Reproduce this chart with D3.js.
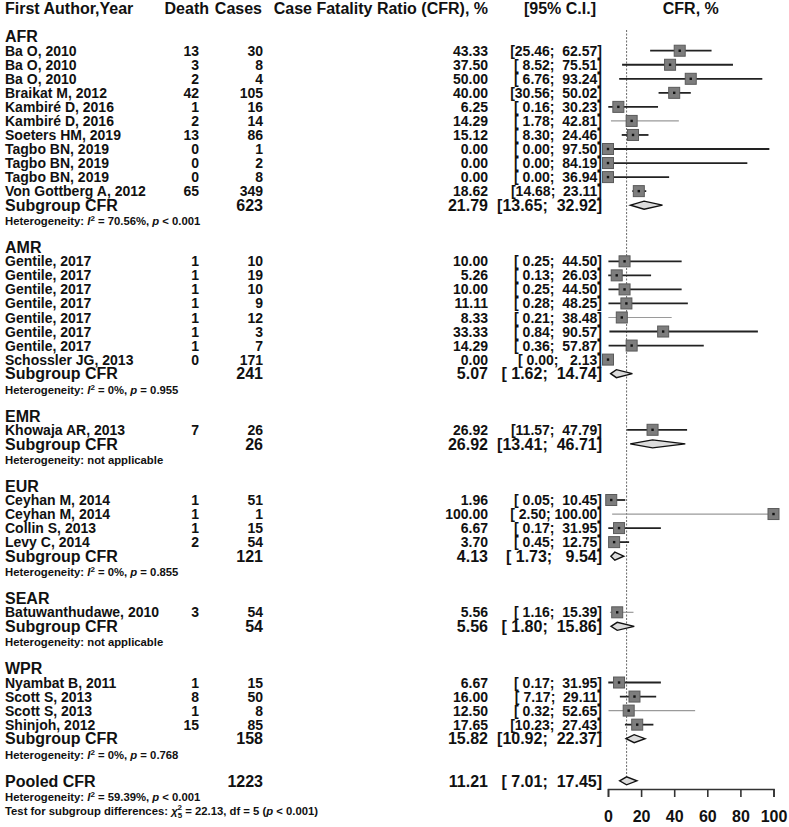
<!DOCTYPE html>
<html><head><meta charset="utf-8">
<script src="https://cdn.jsdelivr.net/npm/d3@7"></script>
<style>
html,body{margin:0;padding:0;background:#fff;}
svg text{font-family:"Liberation Sans",Arial,sans-serif;fill:#111;white-space:pre;}
</style></head>
<body><svg id="c" width="789" height="827"></svg>
<script>
// ---------- data ----------
const regions = ["AFR","AMR","EMR","EUR","SEAR","WPR"];
const studyLabels = [
 "Ba O, 2010","Ba O, 2010","Ba O, 2010","Braikat M, 2012","Kambiré D, 2016","Kambiré D, 2016",
 "Soeters HM, 2019","Tagbo BN, 2019","Tagbo BN, 2019","Tagbo BN, 2019","Von Gottberg A, 2012",
 "Gentile, 2017","Gentile, 2017","Gentile, 2017","Gentile, 2017","Gentile, 2017","Gentile, 2017","Gentile, 2017","Schossler JG, 2013",
 "Khowaja AR, 2013",
 "Ceyhan M, 2014","Ceyhan M, 2014","Collin S, 2013","Levy C, 2014",
 "Batuwanthudawe, 2010",
 "Nyambat B, 2011","Scott S, 2013","Scott S, 2013","Shinjoh, 2012"];
const studyRegion = ["AFR","AFR","AFR","AFR","AFR","AFR","AFR","AFR","AFR","AFR","AFR",
 "AMR","AMR","AMR","AMR","AMR","AMR","AMR","AMR","EMR","EUR","EUR","EUR","EUR","SEAR",
 "WPR","WPR","WPR","WPR"];
const deaths = [13,3,2,42,1,2,13,0,0,0,65, 1,1,1,1,1,1,1,0, 7, 1,1,1,2, 3, 1,8,1,15];
const cases  = [30,8,4,105,16,14,86,1,2,8,349, 10,19,10,9,12,3,7,171, 26, 51,1,15,54, 54, 15,50,8,85];
const cfr    = [43.33,37.50,50.00,40.00,6.25,14.29,15.12,0,0,0,18.62,
 10.00,5.26,10.00,11.11,8.33,33.33,14.29,0, 26.92, 1.96,100.00,6.67,3.70, 5.56, 6.67,16.00,12.50,17.65];
const ciLow  = [25.46,8.52,6.76,30.56,0.16,1.78,8.30,0,0,0,14.68,
 0.25,0.13,0.25,0.28,0.21,0.84,0.36,0, 11.57, 0.05,2.50,0.17,0.45, 1.16, 0.17,7.17,0.32,10.23];
const ciHigh = [62.57,75.51,93.24,50.02,30.23,42.81,24.46,97.50,84.19,36.94,23.11,
 44.50,26.03,44.50,48.25,38.48,90.57,57.87,2.13, 47.79, 10.45,100.00,31.95,12.75, 15.39, 31.95,29.11,52.65,27.43];

const regionTotals = [623,241,26,121,54,158];
const regionCFR  = [21.79,5.07,26.92,4.13,5.56,15.82];
const regionLow  = [13.65,1.62,13.41,1.73,1.80,10.92];
const regionHigh = [32.92,14.74,46.71,9.54,15.86,22.37];
const regionI2   = ["70.56%","0%",null,"0%",null,"0%"];
const regionP    = ["< 0.001","= 0.955",null,"= 0.855",null,"= 0.768"];

const pooledTotal = 1223, pooledCFR = 11.21, pooledLow = 7.01, pooledHigh = 17.45;
const pooledI2 = "59.39%", pooledP = "< 0.001";
const testChi2 = "22.13", testDf = 5, testP = "< 0.001";
const xTicks = [0,20,40,60,80,100];
const headers = ["First Author,Year","Death","Cases","Case Fatality Ratio (CFR), %","[95% C.I.]","CFR, %"];

// ---------- layout ----------
const svg = d3.select("#c");
const y = d3.scaleLinear().domain([0,57]).range([8.6, 8.6+57*14.04]);
const x = d3.scaleLinear().domain([0,100]).range([608,773.5]);
const lightLineStudies = [5,15,21,24,27];
const f2 = v => v.toFixed(2);
const pad = (s,n) => s.padStart(n," ");
const ciStudy = (l,h) => "[" + pad(f2(l),5) + "; " + pad(f2(h),6) + "]";

const colLabel = 5, colDeath = 199, colCases = 263, colCFR = 488, colCI = 602;

function txt(xp, yp, s, size, weight, anchor){
  return svg.append("text").attr("x",xp).attr("y",yp).attr("dy","0.36em")
    .attr("font-size",size).attr("font-weight",weight||"bold")
    .attr("text-anchor",anchor||"start").text(s);
}
function het(yp, i2, p){
  const t = svg.append("text").attr("x",colLabel).attr("y",yp+2).attr("dy","0.36em")
    .attr("font-size",11.3).attr("font-weight","bold");
  if(i2===null){ t.append("tspan").text("Heterogeneity: not applicable"); return; }
  t.append("tspan").text("Heterogeneity: ");
  t.append("tspan").attr("font-style","italic").text("I");
  t.append("tspan").attr("font-size",8).attr("dy",-4).text("2");
  t.append("tspan").attr("dy",4).text(" = " + i2 + ", ");
  t.append("tspan").attr("font-style","italic").text("p");
  t.append("tspan").text(" " + p);
}

// headers
txt(colLabel, y(0), headers[0], 16);
txt(209, y(0), headers[1], 16, "bold", "end");
txt(262, y(0), headers[2], 16, "bold", "end");
txt(488, y(0), headers[3], 16, "bold", "end");
txt(596, y(0), headers[4], 16, "bold", "end");
txt((x(0)+x(100))/2, y(0), headers[5], 16, "bold", "middle");

// reference line
svg.append("line").attr("x1",x(pooledCFR)).attr("x2",x(pooledCFR))
  .attr("y1",30).attr("y2",y(55)-4)
  .attr("stroke","#777").attr("stroke-width",1.1).attr("stroke-dasharray","2,1.5");

function diamond(yp, est, lo, hi){
  const h = 4;
  svg.append("path")
    .attr("d", `M${x(lo)},${yp}L${x(est)},${yp-h}L${x(hi)},${yp}L${x(est)},${yp+h}Z`)
    .attr("fill","#dcdcdc").attr("stroke","#111").attr("stroke-width",1.4);
}

let row = 2;
regions.forEach((r, gi) => {
  txt(colLabel, y(row), r, 16);
  const idx = studyRegion.map((s,i)=>s===r?i:-1).filter(i=>i>=0);
  idx.forEach(i => {
    row++;
    const yp = y(row);
    txt(colLabel, yp, studyLabels[i], 14);
    txt(colDeath, yp, String(deaths[i]), 14, "bold", "end");
    txt(colCases, yp, String(cases[i]), 14, "bold", "end");
    txt(colCFR, yp, f2(cfr[i]), 14, "bold", "end");
    txt(colCI, yp, ciStudy(ciLow[i], ciHigh[i]), 14, "bold", "end");
    const light = lightLineStudies.includes(i);
    svg.append("line").attr("x1",x(ciLow[i])).attr("x2",x(ciHigh[i]))
      .attr("y1",yp).attr("y2",yp)
      .attr("stroke", light ? "#9a9a9a" : "#222").attr("stroke-width", light ? 1.2 : 1.8);
    const s = 11;
    svg.append("rect").attr("x",x(cfr[i])-s/2).attr("y",yp-s/2).attr("width",s).attr("height",s)
      .attr("fill","#7d7d7d").attr("stroke","#5a5a5a").attr("stroke-width",1);
    svg.append("rect").attr("x",x(cfr[i])-1.2).attr("y",yp-1.2).attr("width",2.4).attr("height",2.4)
      .attr("fill","#111");
  });
  row++;
  const ys = y(row);
  txt(colLabel, ys, "Subgroup CFR", 16);
  txt(colCases, ys, String(regionTotals[gi]), 16, "bold", "end");
  txt(colCFR, ys, f2(regionCFR[gi]), 16, "bold", "end");
  txt(colCI, ys, "[" + pad(f2(regionLow[gi]),5) + "; " + pad(f2(regionHigh[gi]),6) + "]", 16, "bold", "end");
  diamond(ys, regionCFR[gi], regionLow[gi], regionHigh[gi]);
  row++;
  het(y(row), regionI2[gi], regionP[gi]);
  row += 2;
});

// pooled
const yp = y(row);
txt(colLabel, yp, "Pooled CFR", 16);
txt(colCases, yp, String(pooledTotal), 16, "bold", "end");
txt(colCFR, yp, f2(pooledCFR), 16, "bold", "end");
txt(colCI, yp, "[" + pad(f2(pooledLow),5) + "; " + pad(f2(pooledHigh),6) + "]", 16, "bold", "end");
diamond(yp, pooledCFR, pooledLow, pooledHigh);
het(y(row+1), pooledI2, pooledP);
{
  const t = svg.append("text").attr("x",colLabel).attr("y",y(row+2)+2).attr("dy","0.36em")
    .attr("font-size",11.3).attr("font-weight","bold");
  t.append("tspan").text("Test for subgroup differences: ");
  t.append("tspan").attr("font-style","italic").text("χ");
  t.append("tspan").attr("font-size",8).attr("dy",3).text(String(testDf));
  t.append("tspan").attr("font-size",8).attr("dx",-4.5).attr("dy",-8).text("2");
  t.append("tspan").attr("dy",5).text(" = " + testChi2 + ", df = " + testDf + " (");
  t.append("tspan").attr("font-style","italic").text("p");
  t.append("tspan").text(" " + testP + ")");
}

// axis
const ax = svg.append("g").attr("transform","translate(0,789)")
  .call(d3.axisBottom(x).tickValues(xTicks).tickSize(8).tickSizeOuter(8).tickPadding(14));
ax.select(".domain").attr("stroke","#333").attr("stroke-width",1.6);
ax.selectAll(".tick line").attr("stroke","#333").attr("stroke-width",1.6);
ax.selectAll(".tick text").attr("font-size",16).attr("font-weight","bold")
  .attr("font-family","Liberation Sans, Arial, sans-serif").attr("fill","#111");
</script></body></html>
